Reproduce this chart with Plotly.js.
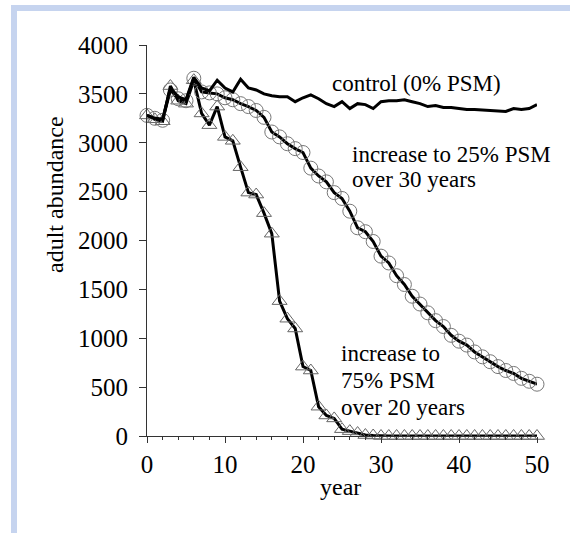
<!DOCTYPE html>
<html>
<head>
<meta charset="utf-8">
<script src="https://cdn.plot.ly/plotly-3.0.1.min.js"></script>
<style>
  html, body { margin: 0; padding: 0; background: #ffffff; }
  #wrap { position: relative; width: 570px; height: 533px; overflow: hidden; }
  #chart { position: absolute; left: 0; top: 0; width: 570px; height: 533px; }
  .frameTop { position: absolute; left: 11px; top: 5px; width: 559px; height: 6px; background: #c6d4ef; }
  .frameLeft { position: absolute; left: 11px; top: 5px; width: 6px; height: 528px; background: #c6d4ef; }
</style>
</head>
<body>
<div id="wrap">
  <div id="chart"></div>
  <div class="frameTop"></div>
  <div class="frameLeft"></div>
</div>
<script>
// ---- data ----
const years = [];
for (let i = 0; i <= 50; i++) years.push(i);

const control = [3280, 3250, 3240, 3560, 3470, 3440, 3670, 3560, 3530, 3640,
                 3560, 3520, 3650, 3560, 3540, 3500, 3480, 3470, 3470, 3420,
                 3460, 3490, 3450, 3400, 3370, 3420, 3350, 3400, 3390, 3350,
                 3420, 3430, 3430, 3440, 3420, 3400, 3370, 3380, 3360, 3360,
                 3350, 3340, 3340, 3335, 3330, 3320, 3320, 3350, 3340, 3350,
                 3390];

const psm25 = [3280, 3250, 3230, 3540, 3450, 3430, 3660, 3520, 3510, 3500,
               3460, 3440, 3400, 3370, 3330, 3260, 3110, 3060, 2990, 2940,
               2900, 2740, 2660, 2600, 2490, 2430, 2300, 2130, 2090, 1990,
               1840, 1770, 1640, 1550, 1430, 1350, 1260, 1180, 1120, 1030,
               970, 930, 860, 810, 760, 710, 670, 640, 590, 560,
               530];

const psm75 = [3280, 3240, 3220, 3580, 3430, 3400, 3640, 3300, 3180, 3370,
               3060, 3020, 2750, 2490, 2470, 2280, 2070, 1380, 1200, 1100,
               710, 670, 300, 210, 180, 70, 50, 30, 10, 5,
               0, 0, 0, 0, 0, 0, 0, 0, 0, 0,
               0, 0, 0, 0, 0, 0, 0, 0, 0, 0,
               0];

const xTicks = [0, 10, 20, 30, 40, 50];
const yTicks = [0, 500, 1000, 1500, 2000, 2500, 3000, 3500, 4000];

const labelControl = "control (0% PSM)";
const label25 = ["increase to 25% PSM", "over 30 years"];
const label75 = ["increase to", "75% PSM", "over 20 years"];

// ---- layout helpers (pixel -> paper) ----
const W = 570, H = 533;
const L = 147, R = 537, T = 45, B = 436;
const px = p => (p - L) / (R - L);
const py = p => (B - p) / (B - T);

const FONT = "Liberation Serif";

const traces = [
  {
    x: years, y: psm75, type: 'scatter', mode: 'lines+markers',
    line: { color: '#000000', width: 3 },
    marker: { symbol: 'triangle-up-open', size: 13, color: '#666666', line: { width: 1, color: '#666666' } },
    cliponaxis: false, showlegend: false, hoverinfo: 'skip'
  },
  {
    x: years, y: psm25, type: 'scatter', mode: 'lines+markers',
    line: { color: '#000000', width: 3 },
    marker: { symbol: 'circle-open', size: 14, color: '#777777', line: { width: 1, color: '#777777' } },
    cliponaxis: false, showlegend: false, hoverinfo: 'skip'
  },
  {
    x: years, y: control, type: 'scatter', mode: 'lines',
    line: { color: '#000000', width: 3 },
    cliponaxis: false, showlegend: false, hoverinfo: 'skip'
  }
];

function ann(text, xPix, yPix, opts) {
  return Object.assign({
    text: text, xref: 'paper', yref: 'paper', x: px(xPix), y: py(yPix),
    xanchor: 'left', yanchor: 'middle', showarrow: false,
    font: { family: FONT, size: 23, color: '#000000' }
  }, opts || {});
}

const annotations = [
  ann(labelControl, 330, 83),
  ann(label25[0], 350, 154),
  ann(label25[1], 350, 180),
  ann(label75[0], 339, 353),
  ann(label75[1], 339, 380),
  ann(label75[2], 339, 407),
  ann("adult abundance", 55, 195, { xanchor: 'center', textangle: -90, font: { family: FONT, size: 24, color: '#000000' } }),
  ann("year", 340, 487, { xanchor: 'center', font: { family: FONT, size: 24, color: '#000000' } })
];

const layout = {
  width: W, height: H,
  margin: { l: L, r: W - R, t: T, b: H - B, pad: 0 },
  paper_bgcolor: 'rgba(0,0,0,0)', plot_bgcolor: 'rgba(0,0,0,0)',
  showlegend: false,
  font: { family: FONT, color: '#000000' },
  xaxis: {
    range: [0, 50], tickmode: 'array', tickvals: xTicks, ticktext: xTicks.map(String),
    showgrid: false, zeroline: false, showline: true, linecolor: '#333333', linewidth: 1,
    ticks: 'outside', ticklen: 6, tickcolor: '#333333', tickwidth: 1,
    minor: { ticks: 'outside', ticklen: 3, dtick: 2, tickcolor: '#333333', tickwidth: 1, showgrid: false },
    tickfont: { family: FONT, size: 25, color: '#000000' },
    fixedrange: true
  },
  yaxis: {
    range: [0, 4000], tickmode: 'array', tickvals: yTicks, ticktext: yTicks.map(String),
    showgrid: false, zeroline: false, showline: true, linecolor: '#333333', linewidth: 1,
    ticks: 'outside', ticklen: 7, tickcolor: '#333333', tickwidth: 1,
    ticklabelstandoff: 6,
    tickfont: { family: FONT, size: 25, color: '#000000' },
    fixedrange: true
  },
  annotations: annotations
};

Plotly.newPlot('chart', traces, layout, { staticPlot: true, displayModeBar: false });
</script>
</body>
</html>
